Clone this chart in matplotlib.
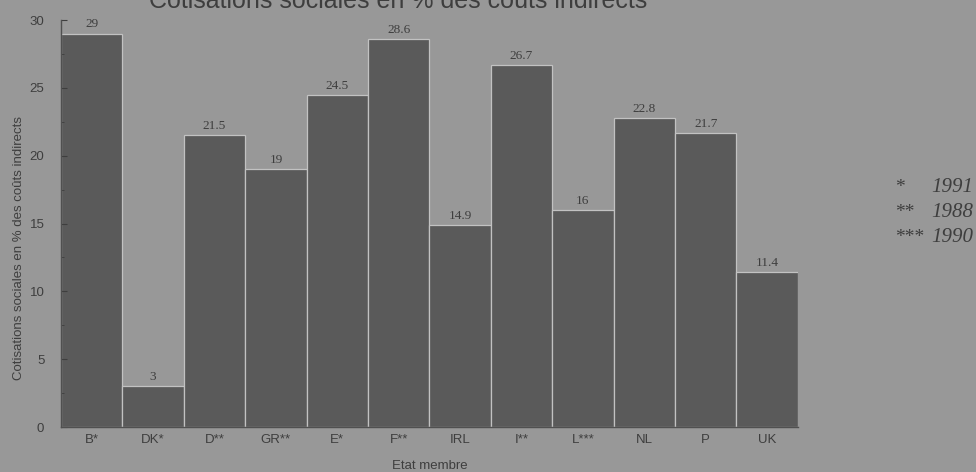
import numpy as np
import matplotlib.pyplot as plt
from matplotlib.ticker import MultipleLocator

# Cotisations sociales par état membre
etats = ['B*', 'DK*', 'D**', 'GR**', 'E*', 'F**', 'IRL', 'I**', 'L***', 'NL', 'P', 'UK']
cotisations = [29, 3, 21.5, 19, 24.5, 28.6, 14.9, 26.7, 16, 22.8, 21.7, 11.4]
annees_marque = ['*', '**', '***']
annees = ['1991', '1988', '1990']

fond = '#989898'
barre = '#5a5a5a'
texte = '#3e3e3e'

fig = plt.figure(figsize=(9.76, 4.72), dpi=100, facecolor=fond)
ax = fig.add_axes([0.0625, 0.0953, 0.755, 0.8623], facecolor=fond)

ind = np.arange(len(etats))
ax.bar(ind, cotisations, width=1.0, color=barre, edgecolor='#c2c2c2', linewidth=0.9)

for x, v in zip(ind, cotisations):
    ax.text(x, v + 0.45, '{:g}'.format(v), ha='center', va='baseline',
            fontsize=9.5, family='Liberation Serif', color=texte)

ax.set_xlim(-0.5, 11.5)
ax.set_ylim(0, 30)
ax.yaxis.set_major_locator(MultipleLocator(5))
ax.yaxis.set_minor_locator(MultipleLocator(2.5))
ax.tick_params(axis='y', which='both', direction='in', colors=texte,
               labelsize=9.5, pad=12)
ax.tick_params(axis='y', which='major', length=4)
ax.tick_params(axis='y', which='minor', length=2.5)
ax.tick_params(axis='x', length=0, labelsize=9.5, colors=texte, pad=5)
ax.set_xticks(ind)
ax.set_xticklabels(etats, family='Liberation Sans')
for lab in ax.get_yticklabels():
    lab.set_family('Liberation Sans')

for s in ['top', 'right']:
    ax.spines[s].set_visible(False)
for s in ['left', 'bottom']:
    ax.spines[s].set_color('#505050')
    ax.spines[s].set_linewidth(1.0)

ax.set_xlabel('Etat membre', family='Liberation Sans', fontsize=9.5,
              color=texte, labelpad=10)
ax.set_ylabel('Cotisations sociales en % des coûts indirects',
              family='Liberation Sans', fontsize=9.5, color=texte)
ax.yaxis.set_label_coords(-0.049, 0.44)

fig.text(398 / 976, 1 - 8 / 472, 'Cotisations sociales en % des coûts indirects',
         ha='center', va='baseline', fontsize=18, family='Liberation Sans',
         color=texte)

# notes sur les années
for i, (m, a) in enumerate(zip(annees_marque, annees)):
    y = 1 - (192 + i * 25) / 472
    fig.text(895 / 976, y, m, ha='left', va='baseline', fontsize=14,
             family='Liberation Serif', color=texte)
    fig.text(931 / 976, y, a, ha='left', va='baseline', fontsize=15,
             family='Liberation Serif', style='italic', color=texte)

fig.savefig('out.png', dpi=100, facecolor=fond)
